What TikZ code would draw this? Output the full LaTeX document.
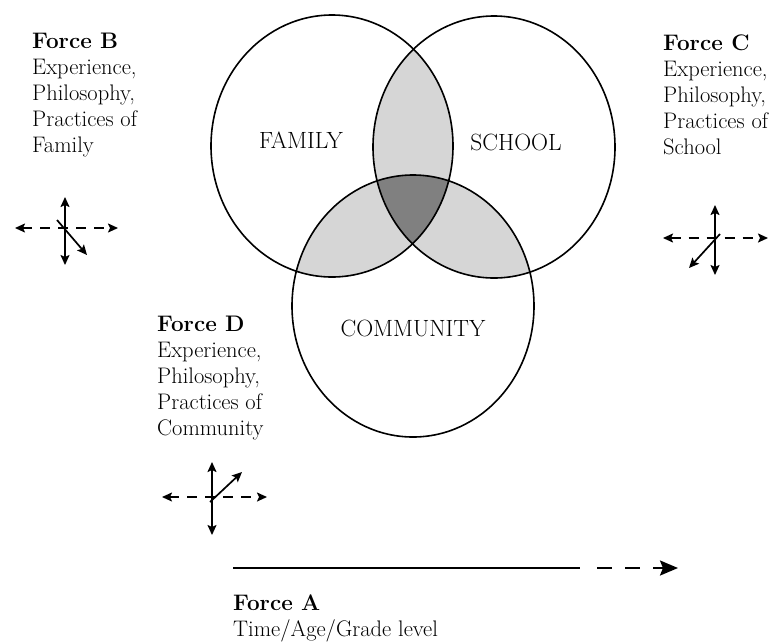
\documentclass[tikz,border=0pt]{standalone}
\usetikzlibrary{arrows.meta}
\begin{document}
\begin{tikzpicture}[x=1pt,y=-1pt,
  ring/.style={line width=1.6pt},
  lightg/.style={fill=black!16},
  darkg/.style={fill=black!50},
  lab/.style={font=\fontsize{23.5}{26}\selectfont, inner sep=0},
  txt/.style={font=\fontsize{22.5}{26}\selectfont, align=left, anchor=base west, inner sep=0},
  sarrow/.style={line width=1.7pt, -{Stealth[length=10pt,width=9pt,inset=2pt]}},
  sdouble/.style={line width=1.7pt, {Stealth[length=10pt,width=9pt,inset=2pt]}-{Stealth[length=10pt,width=9pt,inset=2pt]}},
  ddouble/.style={sdouble, dash pattern=on 10pt off 8pt},
  timeline/.style={line width=2.2pt},
  timedash/.style={line width=2.2pt, dash pattern=on 15pt off 13pt, -{Stealth[length=18pt,width=15pt,inset=3pt]}},
]
\useasboundingbox (0,0) rectangle (778,641);
\def\fam{(332,146) ellipse [x radius=121pt, y radius=131pt]}
\def\sch{(494,147) ellipse [x radius=121pt, y radius=131pt]}
\def\com{(413,306) ellipse [x radius=121pt, y radius=131pt]}
% shaded overlaps
\begin{scope}\clip \fam; \fill[lightg] \sch; \end{scope}
\begin{scope}\clip \fam; \fill[lightg] \com; \end{scope}
\begin{scope}\clip \sch; \fill[lightg] \com; \end{scope}
\begin{scope}\clip \fam; \clip \sch; \fill[darkg] \com; \end{scope}
\draw[ring] \fam;
\draw[ring] \sch;
\draw[ring] \com;
% circle labels
\node[lab] (family) at (301,140) {FAMILY};
\node[lab] (school) at (516,142) {SCHOOL};
\node[lab] (community) at (413,328) {COMMUNITY};
% force texts (anchored at the baseline of the last line)
\node[txt] (forceB) at (32,152) {\textbf{Force B}\\Experience,\\Philosophy,\\Practices of\\Family};
\node[txt] (forceC) at (663,154) {\textbf{Force C}\\Experience,\\Philosophy,\\Practices of\\School};
\node[txt] (forceD) at (157,435) {\textbf{Force D}\\Experience,\\Philosophy,\\Practices of\\Community};
\node[txt] (forceA) at (233,636) {\textbf{Force A}\\Time/Age/Grade level};
% Force B cross
\coordinate (bN) at (65,197); \coordinate (bS) at (65,265);
\coordinate (bW) at (15,228); \coordinate (bE) at (118,228);
\coordinate (bD1) at (57,220); \coordinate (bD2) at (87,255);
\draw[sdouble] (bS) -- (bN);
\draw[ddouble] (bW) -- (bE);
\draw[sarrow] (bD1) -- (bD2);
% Force C cross
\coordinate (cN) at (715,205); \coordinate (cS) at (715,275);
\coordinate (cW) at (663,238); \coordinate (cE) at (768,238);
\coordinate (cD1) at (720,234); \coordinate (cD2) at (689,268);
\draw[sdouble] (cS) -- (cN);
\draw[ddouble] (cW) -- (cE);
\draw[sarrow] (cD1) -- (cD2);
% Force D cross
\coordinate (dN) at (212,462); \coordinate (dS) at (212,535);
\coordinate (dW) at (162,497); \coordinate (dE) at (267,497);
\coordinate (dD1) at (210,502); \coordinate (dD2) at (242,472);
\draw[sdouble] (dS) -- (dN);
\draw[ddouble] (dW) -- (dE);
\draw[sarrow] (dD1) -- (dD2);
% time arrow
\coordinate (tA) at (233,568); \coordinate (tB) at (580,568);
\coordinate (tC) at (597,568); \coordinate (tD) at (678,568);
\draw[timeline] (tA) -- (tB);
\draw[timedash] (tC) -- (tD);
\end{tikzpicture}
\end{document}
